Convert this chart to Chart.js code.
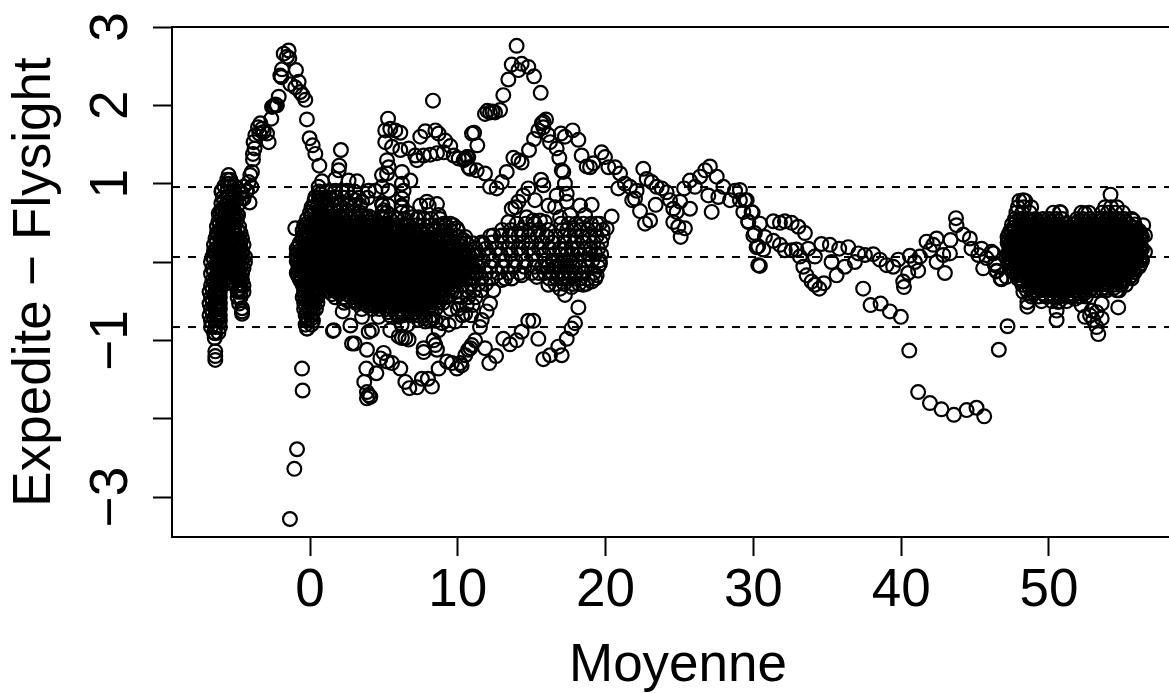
<!DOCTYPE html>
<html>
<head>
<meta charset="utf-8">
<script src="https://cdn.jsdelivr.net/npm/chart.js@4"></script>
<style>
  html, body { margin: 0; padding: 0; background: #fff; overflow: hidden; }
  #wrap { width: 1169px; height: 693px; overflow: hidden; }
</style>
</head>
<body>
<div id="wrap"><canvas id="chart" width="1184" height="693"></canvas></div>
<script>
// Dense clouds, one row per line: [difference, mean, mean, ...]
const leftRows = [
  [1.05,-5.6,-5.4],[.97,-5.8,-5.4,-5.1],[.9,-6,-5.6,-5.2,-4.7,-4.3],[.82,-5.9,-5.5,-5.1,-4.6],
  [.75,-6,-5.6,-5.2,-4.8],[.67,-6,-5.6,-5.2],[.6,-6.1,-5.7,-5.3,-4.9],[.52,-6.2,-5.8,-5.4,-5],
  [.45,-6.3,-5.9,-5.5,-5.1,-4.8],[.37,-6.3,-5.9,-5.5,-5.1,-4.7],[.3,-6.4,-6,-5.6,-5.2,-4.8,-4.6],
  [.22,-6.5,-6,-5.6,-5.2,-4.8,-4.5],[.14,-6.5,-6,-5.5,-5,-4.6],[.07,-6.6,-6.1,-5.6,-5.2,-4.7,-4.4],
  [0,-6.7,-6.2,-5.7,-5.3,-4.8,-4.4],[-.08,-6.6,-6.2,-5.7,-5.3,-4.9,-4.5],[-.15,-6.7,-6.2,-5.8,-5.4,-5,-4.6],
  [-.23,-6.6,-6.2,-5.8,-5.3,-4.9,-4.6],[-.3,-6.7,-6.3,-6,-5,-4.7,-4.5],[-.38,-6.8,-6.4,-6.1,-4.9,-4.7,-4.5],
  [-.45,-6.7,-6.3,-6.1,-4.9,-4.7],[-.53,-6.8,-6.4,-6.1,-4.8],[-.6,-6.7,-6.3,-6.1],[-.68,-6.8,-6.4,-6.1],
  [-.75,-6.7,-6.3,-6.1],[-.83,-6.7,-6.4,-6.1],[-.9,-6.5,-6.2]
];
const leftFillRows = [
  [.79,-5.8,-5.4,-5],[.71,-5.8,-5.4],[.64,-5.9,-5.5,-5.1],[.56,-6,-5.6,-5.2],[.49,-6.1,-5.7,-5.3],
  [.41,-6.1,-5.7,-5.3,-4.9],[.34,-6.2,-5.8,-5.4,-5],[.26,-6.3,-5.8,-5.4,-5,-4.7],[.18,-6.3,-5.8,-5.4,-5,-4.7],
  [.1,-6.4,-5.9,-5.4,-5,-4.6],[.04,-6.5,-5.9,-5.5,-5,-4.6],[-.04,-6.4,-6,-5.5,-5.1,-4.7],[-.12,-6.5,-6,-5.6,-5.2,-4.8],
  [-.19,-6.4,-6,-5.6,-5.1,-4.8],[-.27,-6.5,-6.1,-5.6,-4.8],[-.34,-6.6,-6.2,-4.8],[-.42,-6.5,-6.2],[-.5,-6.6,-6.2],
  [-.57,-6.5,-6.2],[-.64,-6.6,-6.2],[-.72,-6.5,-6.2]
];
const centreRows = [
  [.78,.3,.7],[.7,.1,.5,1],[.63,0,.3,.7,1.2],[.55,-.2,.3,.7,1.2,1.5],
  [.47,-.4,0,.5,1,1.4,1.9,2.3,2.8,3.3,3.7],
  [.4,-.5,-.2,.3,.7,1.2,1.7,2.1,2.6,3.1,3.5,4,4.5],
  [.32,-.5,0,.5,1,1.4,1.9,2.3,2.8,3.3,3.8,4.2,4.7,5.2,5.6,6.1,7],
  [.24,-.7,-.2,.3,.7,1.2,1.7,2.1,2.6,3.1,3.5,4,4.5,4.9,5.4,5.9,6.3,6.8,7.3,7.7,8.2,8.7],
  [.17,-.9,-.4,0,.5,1,1.4,1.9,2.3,2.8,3.3,3.8,4.2,4.7,5.2,5.6,6.1,6.6,7,7.5,8,8.4,8.9,9.4,9.8],
  [.09,-.9,-.2,.3,.7,1.2,1.7,2.1,2.6,3.1,3.5,4,4.5,4.9,5.4,5.9,6.3,6.8,7.3,7.7,8.2,8.7,9.1,9.6,10.1,10.5,11],
  [.01,-.9,-.4,0,.5,1,1.4,1.9,2.3,2.8,3.3,3.8,4.2,4.7,5.2,5.6,6.1,6.6,7,7.5,8,8.4,8.9,9.4,9.8,10.3,10.8,11.2],
  [-.06,-.7,-.2,.3,.7,1.2,1.7,2.1,2.6,3.1,3.5,4,4.5,4.9,5.4,5.9,6.3,6.8,7.3,7.7,8.2,8.7,9.1,9.6,10.1,10.5,11],
  [-.14,-.9,-.4,0,.5,1,1.4,1.9,2.3,2.8,3.3,3.8,4.2,4.7,5.2,5.6,6.1,6.6,7,7.5,8,8.4,8.9,9.4,9.8,10.3,10.8,11.2],
  [-.22,-.7,-.2,.3,.7,1.2,1.7,2.1,2.6,3.1,3.5,4,4.5,4.9,5.4,5.9,6.3,6.8,7.3,7.7,8.2,8.7,9.1,9.6,10.1,10.5,10.8],
  [-.29,-.5,0,.5,1,1.4,1.9,2.3,2.8,3.3,3.8,4.2,4.7,5.2,5.6,6.1,6.6,7,7.5,8,8.4,8.9,9.4,9.8,10.3],
  [-.37,-.4,.1,.5,1.2,1.7,2.1,2.6,3.1,3.5,4,4.5,4.9,5.4,5.9,6.3,6.8,7.3,7.7,8.2,8.7,9.1,9.6,9.9],
  [-.45,-.5,0,.5,1.7,2.3,2.8,3.3,3.8,4.2,4.7,5.2,5.6,6.1,6.6,7,7.5,8,8.4,8.9,9.2],
  [-.52,-.4,.1,.5,2.3,3.1,3.5,4,4.5,4.9,5.4,5.9,6.3,6.8,7.3,7.7,8.2,8.7,9],
  [-.6,-.4,0,.4,3.5,4.2,4.7,5.2,5.6,6.1,6.6,7,7.5,8,8.5,9.5,10],
  [-.68,-.3,.1,5.4,5.9,6.3,6.8,7.3,7.7,8.3],
  [-.75,-.2,.2,8.1,8.5],[-.8,-.3,.1,6.2,6.6],[-.85,-.2]
];
const centreFillRows = [
  [.59,.1,.5,1],[.51,-.1,.2,.6,1.1,1.5,2,2.5],
  [.44,-.3,.2,.6,1.1,1.5,2,2.5,3,3.4],
  [.36,-.4,.2,.6,1.1,1.5,2,2.5,3,3.4,3.9,4.4],
  [.28,-.5,-.3,.2,.6,1.1,1.5,2,2.5,3,3.4,3.9,4.4,4.8,5.3,5.8,6.2],
  [.2,-.8,-.3,.2,.6,1.1,1.5,2,2.5,3,3.4,3.9,4.4,4.8,5.3,5.8,6.2,6.7,7.2,7.6,8.1,8.6],
  [.13,-.8,-.3,.2,.6,1.1,1.5,2,2.5,3,3.4,3.9,4.4,4.8,5.3,5.8,6.2,6.7,7.2,7.6,8.1,8.6,9,9.5],
  [.05,-.8,-.3,.2,.6,1.1,1.5,2,2.5,3,3.4,3.9,4.4,4.8,5.3,5.8,6.2,6.7,7.2,7.6,8.1,8.6,9,9.5,10,10.4,10.9],
  [-.02,-.8,-.3,.2,.6,1.1,1.5,2,2.5,3,3.4,3.9,4.4,4.8,5.3,5.8,6.2,6.7,7.2,7.6,8.1,8.6,9,9.5,10,10.4,10.9],
  [-.1,-.8,-.3,.2,.6,1.1,1.5,2,2.5,3,3.4,3.9,4.4,4.8,5.3,5.8,6.2,6.7,7.2,7.6,8.1,8.6,9,9.5,10,10.4,10.9],
  [-.18,-.8,-.3,.2,.6,1.1,1.5,2,2.5,3,3.4,3.9,4.4,4.8,5.3,5.8,6.2,6.7,7.2,7.6,8.1,8.6,9,9.5,10,10.4],
  [-.25,-.6,-.3,.2,.6,1.1,1.5,2,2.5,3,3.4,3.9,4.4,4.8,5.3,5.8,6.2,6.7,7.2,7.6,8.1,8.6,9,9.5,10],
  [-.33,-.4,.2,.6,1.1,1.5,2,2.5,3,3.4,3.9,4.4,4.8,5.3,5.8,6.2,6.7,7.2,7.6,8.1,8.6,9,9.5],
  [-.41,-.4,.2,1.5,2,2.5,3,3.4,3.9,4.4,4.8,5.3,5.8,6.2,6.7,7.2,7.6,8.1,8.6,9],
  [-.49,-.3,.2,2.5,3,3.4,3.9,4.4,4.8,5.3,5.8,6.2,6.7,7.2,7.6,8.1,8.6],
  [-.56,-.3,.2,3.9,4.4,4.8,5.3,5.8,6.2,6.7,7.2,7.6,8.1],
  [-.64,-.2,.2,5.3,5.8,6.2,6.7,7.2,7.6],[-.72,-.2,.1,7.8,8.3]
];
const centreCoreRows = [
  [.26,.4,.8,1.3,1.8,2.2,2.7,3.2,3.6,4.1,4.6,5,5.5],
  [.19,-.1,.4,.8,1.3,1.8,2.2,2.7,3.2,3.6,4.1,4.6,5,5.5,6,6.4,6.9,7.4],
  [.11,-.6,-.1,.4,.8,1.3,1.8,2.2,2.7,3.2,3.6,4.1,4.6,5,5.5,6,6.4,6.9,7.4,7.8,8.3,8.8],
  [.03,-.6,-.1,.4,.8,1.3,1.8,2.2,2.7,3.2,3.6,4.1,4.6,5,5.5,6,6.4,6.9,7.4,7.8,8.3,8.8,9.2,9.7],
  [-.04,-.6,-.1,.4,.8,1.3,1.8,2.2,2.7,3.2,3.6,4.1,4.6,5,5.5,6,6.4,6.9,7.4,7.8,8.3,8.8,9.2,9.7],
  [-.12,-.6,-.1,.4,.8,1.3,1.8,2.2,2.7,3.2,3.6,4.1,4.6,5,5.5,6,6.4,6.9,7.4,7.8,8.3,8.8,9.2,9.7],
  [-.2,-.6,-.1,.4,.8,1.3,1.8,2.2,2.7,3.2,3.6,4.1,4.6,5,5.5,6,6.4,6.9,7.4,7.8,8.3,8.8,9.2],
  [-.27,-.1,.4,.8,1.3,1.8,2.2,2.7,3.2,3.6,4.1,4.6,5,5.5,6,6.4,6.9,7.4,7.8,8.3,8.8],
  [-.35,-.1,.3,1.8,2.2,2.7,3.2,3.6,4.1,4.6,5,5.5,6,6.4,6.9,7.4,7.8,8.3],
  [-.43,-.1,.3,3.2,3.6,4.1,4.6,5,5.5,6,6.4,6.9,7.4,7.8],[-.5,-.1,.3,4.6,5,5.5,6,6.4,6.9,7.4]
];
const topFillRows = [
  [.58,1.3,1.7,2.1,2.6,3,3.5,4],[.51,3,3.4,3.9,4.3],[.45,3.7,4.1,4.6,5,5.5,6,6.5],
  [.38,4.2,4.8,5.2,5.7,6.2,6.6,7.1,7.6,8],[.3,5.3,5.8,6.3,6.7,7.2,7.7,8.1,8.6,9],
  [.27,6.6,7.1,7.6,8,8.5,9,9.4],[.2,8.9,9.3,9.8,10.2],[.13,9.9,10.3,10.7]
];
const upperRows = [
  [.9,.6,1.1,1.7,2.2,2.5,3],[.82,.6,.9,1.3,1.8,2.3,2.8,3.3,3.9],
  [.72,1.2,1.6,2,2.5,3,3.4,4.9,5.3,6.2],[.63,1.5,1.9,2.4,2.9,3.4,4.9,5.2,6.2,6.6],
  [.55,1.8,2.3,2.8,3.3,3.8,4.9,5.4,5.9,6.4,7.2,7.7,8.2,8.8],
  [.47,4.2,4.7,5.2,5.7,6.2,6.7,7.2,7.7,8.2,8.7,9.2,9.7],
  [.4,5,5.5,6,6.5,7,7.5,8,8.5,9,9.5,10],[.32,7.5,8,8.6,9.1,9.6,10.1,10.5],[.24,9.2,9.7,10.2,10.6,11]
];
const midRows = [
  [.49,14,14.6,15.2,17,17.5,18,18.5,19,19.6],
  [.41,13,13.6,14.3,14.9,15.5,16.1,17.1,17.4,17.9,18.3,18.8,19.3,19.8],
  [.33,12.2,12.9,13.5,14.1,14.8,15.4,16,16.6,17.2,17.6,18,18.4,18.9,19.4,19.8],
  [.25,11.6,12.3,13,13.7,14.4,15,15.7,16.4,17.2,17.9,18.5,19.2,19.7],
  [.17,11.2,11.9,12.6,13.4,14.1,14.8,15.5,16.2,16.9,17.3,17.7,18.1,18.6,19,19.5],
  [.1,11.4,12.1,12.9,13.6,14.3,15.1,15.8,16.5,17,17.4,17.8,18.3,18.9,19.3,19.7],
  [.02,11.7,12.4,13.2,13.9,14.6,15.3,15.9,16.4,16.8,17.2,17.6,18,18.6,19.1,19.6],
  [-.06,11.4,12.2,13,13.8,14.5,15.2,15.7,16.1,16.6,17,17.4,17.8,18.2,18.8,19.5],
  [-.14,11.3,11.9,12.7,13.4,14.2,15,15.5,15.9,16.4,16.8,17.2,17.6,18,18.5,19.2],
  [-.21,11,11.6,12.3,13.2,16.2,16.7,17.1,17.5,17.9,18.3,18.8,19.3],
  [-.28,10.9,11.4,11.9,16.6,17.2,17.8,18.2,18.7],[-.36,10.6,11.1,11.6],[-.45,10.2,10.7,11.2],[-.55,10.1,10.6,11],[-.68,10.3,10.9]
];
const rightRows = [
  [.78,48,48.4],[.7,47.9,48.3,48.8,53.8,54.2,54.6],
  [.63,47.8,48.2,48.7,50.3,50.8,52.2,52.7,53.6,54,54.5,55],
  [.55,47.7,48.1,48.6,49.1,49.6,50,50.5,50.9,51.9,52.3,52.8,53.3,53.7,54.2,54.7,55.1,55.6],
  [.48,47.5,48,48.4,48.8,49.3,49.8,50.2,50.7,51.2,51.6,52.1,52.6,53,53.5,54,54.4,54.9,55.4,55.8],
  [.4,47.4,47.7,48.1,48.6,49.1,49.5,50,50.5,50.9,51.4,51.9,52.3,52.8,53.3,53.7,54.2,54.7,55.1,55.6,56.1],
  [.32,47.2,47.9,48.4,48.8,49.3,49.8,50.2,50.7,51.2,51.6,52.1,52.6,53,53.5,54,54.4,54.9,55.4,55.8,56.3],
  [.25,47.2,47.7,48.1,48.6,49.1,49.5,50,50.5,50.9,51.4,51.9,52.3,52.8,53.3,53.7,54.2,54.7,55.1,55.6,56.1],
  [.17,47.4,47.9,48.4,48.8,49.3,49.8,50.2,50.7,51.2,51.6,52.1,52.6,53,53.5,54,54.4,54.9,55.4,55.8,56.3],
  [.1,47.2,47.7,48.1,48.6,49.1,49.5,50,50.5,50.9,51.4,51.9,52.3,52.8,53.3,53.7,54.2,54.7,55.1,55.6,56.1],
  [.02,47.4,47.9,48.4,48.8,49.3,49.8,50.2,50.7,51.2,51.6,52.1,52.6,53,53.5,54,54.4,54.9,55.4,55.8,56.3],
  [-.06,47.4,47.7,48.1,48.6,49.1,49.5,50,50.5,50.9,51.4,51.9,52.3,52.8,53.3,53.7,54.2,54.7,55.1,55.6,56.1],
  [-.13,47.6,47.9,48.4,48.8,49.3,49.8,50.2,50.7,51.2,51.6,52.1,52.6,53,53.5,54,54.4,54.9,55.4,55.8],
  [-.21,47.9,48.1,48.6,49.1,49.5,50,50.5,50.9,51.4,51.9,52.3,52.8,53.3,53.7,54.2,54.7,55.1,55.6],
  [-.29,48.2,48.8,49.3,49.8,50.2,50.7,51.2,51.6,52.1,52.6,53,53.5,54,54.4,54.9,55.2],
  [-.36,48.5,49.1,49.5,50,50.5,50.9,51.4,51.9,52.3,52.8,53.1,53.9,54.6],
  [-.44,48.8,49.3,49.8,50.2,50.7,51.2,51.6,52.1,52.5],[-.5,49.5,50.2,50.7,51.2]
];
const rightFillRows = [
  [.52,47.8,48.2,48.7,49.2,49.6,50.1,50.6,52,52.4,52.9,53.4,53.8,54.3,54.8,55.2],
  [.44,47.6,48.2,48.7,49.2,49.6,50.1,50.6,51,51.5,52,52.4,52.9,53.4,53.8,54.3,54.8,55.2,55.7],
  [.36,47.3,47.8,48.2,48.7,49.2,49.6,50.1,50.6,51,51.5,52,52.4,52.9,53.4,53.8,54.3,54.8,55.2,55.7,56.2],
  [.28,47.3,47.8,48.2,48.7,49.2,49.6,50.1,50.6,51,51.5,52,52.4,52.9,53.4,53.8,54.3,54.8,55.2,55.7,56.2],
  [.21,47.3,47.8,48.2,48.7,49.2,49.6,50.1,50.6,51,51.5,52,52.4,52.9,53.4,53.8,54.3,54.8,55.2,55.7,56.2],
  [.13,47.3,47.8,48.2,48.7,49.2,49.6,50.1,50.6,51,51.5,52,52.4,52.9,53.4,53.8,54.3,54.8,55.2,55.7,56.2],
  [.06,47.3,47.8,48.2,48.7,49.2,49.6,50.1,50.6,51,51.5,52,52.4,52.9,53.4,53.8,54.3,54.8,55.2,55.7,56.2],
  [-.02,47.4,47.8,48.2,48.7,49.2,49.6,50.1,50.6,51,51.5,52,52.4,52.9,53.4,53.8,54.3,54.8,55.2,55.7,56.2],
  [-.1,47.6,48.2,48.7,49.2,49.6,50.1,50.6,51,51.5,52,52.4,52.9,53.4,53.8,54.3,54.8,55.2,55.7],
  [-.17,47.8,48.2,48.7,49.2,49.6,50.1,50.6,51,51.5,52,52.4,52.9,53.4,53.8,54.3,54.8,55.2,55.6],
  [-.25,48.2,48.7,49.2,49.6,50.1,50.6,51,51.5,52,52.4,52.9,53.4,53.8,54.3,54.8,55],
  [-.33,48.7,49.2,49.6,50.1,50.6,51,51.5,52,52.4,52.9,53.9,54.4],[-.4,49,49.6,50.1,50.6,51,51.5,52,52.4]
];
const rightCoreRows = [
  [.46,48,48.5,48.9,49.4,49.9,50.3,52.2,52.7,53.1,53.6,54.1,54.5,55],
  [.38,47.5,48,48.5,48.9,49.4,49.9,50.3,50.8,51.3,51.7,52.2,52.7,53.1,53.6,54.1,54.5,55,55.5,55.9],
  [.3,47.5,48,48.5,48.9,49.4,49.9,50.3,50.8,51.3,51.7,52.2,52.7,53.1,53.6,54.1,54.5,55,55.5,55.9],
  [.23,47.5,48,48.5,48.9,49.4,49.9,50.3,50.8,51.3,51.7,52.2,52.7,53.1,53.6,54.1,54.5,55,55.5,55.9],
  [.15,47.5,48,48.5,48.9,49.4,49.9,50.3,50.8,51.3,51.7,52.2,52.7,53.1,53.6,54.1,54.5,55,55.5,55.9],
  [.08,47.5,48,48.5,48.9,49.4,49.9,50.3,50.8,51.3,51.7,52.2,52.7,53.1,53.6,54.1,54.5,55,55.5,55.9],
  [0,47.5,48,48.5,48.9,49.4,49.9,50.3,50.8,51.3,51.7,52.2,52.7,53.1,53.6,54.1,54.5,55,55.5,55.9],
  [-.08,48,48.5,48.9,49.4,49.9,50.3,50.8,51.3,51.7,52.2,52.7,53.1,53.6,54.1,54.5,55,55.5],
  [-.15,48.5,48.9,49.4,49.9,50.3,50.8,51.3,51.7,52.2,52.7,53.1,53.6,54.1,54.5,55],
  [-.23,48.9,49.4,49.9,50.3,50.8,51.3,51.7,52.2,52.7,53.1,53.6,54.1,54.5],
  [-.31,49.4,49.9,50.3,50.8,51.3,51.7,52.2,52.6]
];
// Rings that can be told apart, as [mean, difference]
const peakTrack = [
  [-1.78,2.66],[-1.45,2.7],[-1.56,2.62],[-1.4,2.6],[-1.9,2.46],[-2.01,2.38],[-1.94,2.36],[-.95,2.45],[-1.33,2.27],
  [-.77,2.3],[-1,2.23],[-.66,2.17],[-.5,2.13],[-.32,2.07],[-2.12,2.11],[-2.35,2.01],[-2.57,1.98],[-2.24,2],[-2.46,1.99],
  [-.21,1.82],[-2.62,1.83],[-.03,1.58],[.18,1.49],[.36,1.38],[.63,1.23],[-3.36,1.77],[-3.52,1.72],[-3.25,1.7],
  [-3.14,1.66],[-2.91,1.64],[-3.43,1.64],[-2.8,1.53],[-3.7,1.62],[-3.82,1.53],[-3.75,1.45],[-3.86,1.38],[-3.86,1.31],
  [-3.93,1.15],[-4.04,1.11],[-4.15,1.02],[-3.97,.96],[-4.49,.96],[-4.27,.91],[-4.09,.76],[-4.49,.81],[-5.51,1.11],
  [-5.51,1],[-5.96,.91],[-4.87,.6],[-4.94,.55],[-6.18,.62],[-4.72,.87],[-4.6,-.59],[-4.6,-.63],[-4.6,-.66],
  [-6.41,-1.25],[-6.41,-1.2],[-6.41,-1.14],[-6.45,-.97],[-6.41,-.91]
];
const lowTrack = [
  [-.2,-.85],[-.54,-1.36],[-.5,-1.64],[-.88,-2.39],[-1.06,-2.64],[-1.36,-3.28],[1.6,-.87],[1.55,-.88],[2.21,-.63],
  [2.73,-.81],[2.84,-1.04],[3.02,-1.04],[3.85,-1.12],[4.98,-1.16],[4.76,-1.23],[5.21,-1.27],[5.55,-1.29],[6.11,-1.36],
  [3.81,-1.36],[4.49,-1.42],[3.67,-1.53],[6.45,-1.53],[6.72,-1.61],[7.24,-1.6],[7.57,-1.49],[7.98,-1.49],[8.25,-1.59],
  [8.7,-1.36],[9.27,-1.27],[9.6,-1.29],[9.94,-1.36],[10.17,-1.29],[10.51,-1.19],[10.85,-1.1],[3.85,-1.66],[3.97,-1.7],
  [4.08,-1.72],[3.85,-1.74],[6.45,-.97],[6.22,-.97],[6.67,-.99],[7.69,-1.1],[7.69,-1.15],[8.36,-1],[8.48,-1.06],
  [8.59,-1.12],[4.19,-.87],[3.97,-.89],[5.43,-.87],[6,-.95],[9.83,-.76],[9.38,-.8],[10.5,-.66],[3.52,-.7],[4.64,-.7],
  [7.35,-.74],[7.8,-.76],[8.7,-.87],[8.93,-.78],[6,-.7],[6.9,-.66],
  [18.16,-.58],[17.93,-.78],[17.7,-.85],[17.37,-.98],[16.8,-1.08],[17.03,-1.19],[16.24,-1.19],[15.79,-1.24],[15.45,-.98],
  [15.11,-.75],[14.77,-.75],[14.32,-.89],[13.98,-1],[13.53,-1.05],[13.08,-.98],[12.59,-1.2],[12.13,-1.29],[11.84,-1.1],
  [11.17,-1],[10.94,-1.06],[10.71,-1.12],[10.26,-1.32],[11.5,-.83],[11.62,-.74],[11.95,-.63],[12.18,-.53],[17.25,-.42],
  [16.13,-.29],[18.49,-.29],[19.06,-.25],[15.34,-.19],[19.4,-.17],[19.62,-.02],[12.4,-.36],[12.97,-.23],[13.65,-.21],
  [14.32,-.17],[16.92,-.34],[17.7,-.32]
];
const upperTrack = [
  [5.28,1.83],[5.09,1.68],[5.43,1.7],[5.77,1.68],[6.11,1.65],[5.09,1.53],[5.55,1.47],[6.11,1.43],[6.67,1.45],[7.12,1.36],
  [7.24,1.3],[7.46,1.6],[7.8,1.67],[8.48,1.68],[8.7,1.64],[9.15,1.55],[9.49,1.48],[9.72,1.36],[10.06,1.32],[10.4,1.3],
  [10.62,1.34],[10.73,1.21],[10.96,1.64],[7.69,1.36],[8.14,1.37],[8.59,1.39],[9.04,1.4],[8.32,2.06],[2.09,1.43],[1.98,1.23],
  [1.94,1.17],[3.18,1.03],[2.61,1.04],[1.71,1.06],[.81,1.03],[.58,.96],[.36,.83],[.7,.87],[.25,.7],[5.21,1.3],[5.32,1.21],
  [5.21,1.13],[4.87,1.11],[6.22,1.15],[6.79,1.04],[6.22,1],[6.33,.91],[6.22,.81],[6.22,.7],[3.97,.91],[4.42,.91],[4.87,.96],
  [5.32,.91],[4.87,.74],[4.98,.66],[3.85,.57],[3.52,.77],[3.07,.79],[2.5,.91],[1.71,.91],[1.82,.74],[1.71,.83],[1.03,.79],
  [7.91,.77],[8.03,.72],[8.59,.74],[7.46,.72],[8.7,.6],[7.35,.57],[9.04,.49],[9.49,.49],[9.94,.43],[10.39,.28],[6.9,.57],[-1,.43]
];
const humpTrack = [
  [13.98,2.76],[13.65,2.52],[14.32,2.53],[14.1,2.45],[14.77,2.49],[15.16,2.37],[13.42,2.33],[15.61,2.16],[13.08,2.13],
  [12.86,1.94],[12.52,1.91],[12.18,1.91],[11.84,1.89],[12,1.93],[12.35,1.92],[11.1,1.65],[11.32,1.49],[10.49,1.32],[10.71,1.34],
  [11.28,1.17],[11.84,1.13],[10.83,1.19],[12.18,.96],[12.63,.94],[12.97,1.02],[13.31,1.15],[13.76,1.33],[14.32,1.27],[14.1,1.3],
  [14.82,1.43],[15.16,1.57],[15.45,1.68],[15.68,1.77],[15.97,1.82],[15.79,1.79],[15.79,1.72],[16.13,1.62],[16.24,1.53],
  [16.69,1.45],[16.87,1.33],[16.98,1.64],[17.25,1.6],[17.77,1.68],[18.16,1.56],[18.38,1.36],[17.14,1.15],[17.03,1.17],
  [17.25,1],[17.37,.87],[17.37,.77],[18.72,1.22],[18.95,1.21],[19.17,1.26],[19.73,1.4],[19.96,1.34],[20.19,1.21],[20.64,1.21],
  [15.63,1.05],[15.79,.98],[14.77,.94],[14.43,.85],[15.22,.79],[13.65,.68],[13.9,.7],[14.1,.77],[16.13,.72],[16.58,.7],
  [16.69,.85],[18.27,.72],[19.06,.73],[20.41,.58],[20.07,.43],[16.92,.57],[17.59,.6],[18.61,.6],[19.4,.49],[13.42,.51],
  [15.56,.53],[15.9,.51],[15.11,.53],[14.66,.57],[16.06,.32],[12.4,.34],[11.73,.23],[12.97,.34],[14.32,.36]
];
const ridgeTrack = [
  [20.86,.94],[20.98,1.13],[21.31,1],[21.65,.96],[22.1,.91],[21.99,.81],[21.8,.79],[22.33,.65],[22.55,1.19],[22.78,1.06],
  [23.12,1.02],[23.46,.96],[23.8,.94],[24.13,.89],[24.36,.79],[23.39,.73],[23.01,.53],[22.67,.49],[24.58,.68],[24.81,.64],
  [25.04,.77],[25.71,.68],[24.58,.51],[24.92,.45],[25.37,.43],[25.08,.32],[25.31,.94],[25.71,1.04],[26.05,.96],[26.39,1.09],
  [26.73,1.17],[27.06,1.22],[26.95,.85],[27.18,.64],[27.52,1.09],[27.63,.83],[27.97,.96],[28.42,.79],[28.76,.91],[29.09,.79],
  [29.55,.79],[29.32,.64],[29.88,.64],[29.66,.51],[30,.34],[30.22,.19],[30.33,-.04],
  [29.09,.92],[29.43,.79],[29.95,.63],[29.65,.52],[30.44,.49],[30.1,.37],[31.35,.52],[31.8,.5],[32.13,.52],[32.59,.5],
  [33.04,.45],[33.49,.37],[30.78,.32],[30.33,.2],[30.67,.16],[31.35,.27],[31.8,.22],[32.13,.15],[32.59,.15],[32.92,.16],
  [30.44,-.05],[33.71,.17],[34.16,.07],[33.15,.07],[33.38,-.06],[33.6,-.17],[33.94,-.25],[34.16,-.29],[34.46,-.34],[34.77,-.27],
  [34.6,.23],[35.18,.22],[35.81,.17],[36.42,.19],[35.29,0],[35.63,-.17],[36.19,-.06],[36.87,0],[37.1,.11],[37.55,.09],
  [38.11,.1],[38.56,.03],[39.01,-.04],[39.46,-.06],[39.8,.03],[37.43,-.34],[37.93,-.55],[38.61,-.53],[39.24,-.63],[39.98,-.7],
  [40.55,-1.13],[40.14,-.25],[40.19,-.32],[40.59,.08],[40.48,-.14],[41.15,-.11],[40.93,0],[41.27,.07],[41.72,.26],[42.17,.22],
  [42.4,.3],[41.95,.15],[42.4,0],[42.85,.09],[43.3,.11],[42.96,-.14],[43.34,.28],[43.71,.56],[43.75,.47],[44.2,.35],[44.65,.3],
  [44.76,.17],[45.44,.17],[46.12,.13],[45.55,-.08],[45.22,.09],[45.78,.05],[46.34,-.04],[46.46,-.12],[46.79,-.22],[47.13,-.19],
  [47.2,-.82],[46.61,-1.12],[41.15,-1.66],[41.95,-1.8],[42.73,-1.88],[43.57,-1.95],[44.43,-1.89],[45.1,-1.86],[45.62,-1.97]
];
const rightTrack = [
  [46.24,.11],[46.35,-.02],[46.46,-.11],[46.73,-.21],[48.54,-.57],[48.54,-.51],[48.27,-.38],[50.52,-.74],[50.52,-.62],[50.63,-.51],
  [51.76,-.47],[52.21,-.55],[52.44,-.7],[52.89,-.62],[53.34,-.92],[53.23,-.83],[53.57,-.72],[53.57,-.53],[53.57,-.34],[54.69,-.58],
  [54.76,-.36],[52.78,-.68],[53.23,-.64],[53,-.74],[55.48,-.19],[56.27,.04],[56.5,.13],[56.5,.34],[56.38,.47],[55.71,.53],
  [54.17,.86],[48.27,.79],[50.75,.64],[52.44,.62]
];

const limitValues = [0.957, 0.064, -0.83];
const xTicks = [0, 10, 20, 30, 40, 50];
const yTicks = [3, 2, 1, 0, -1, -2, -3];
const yTickLabels = ['3', '2', '1', '', '\u22121', '', '\u22123'];
const xRange = [-9.34, 59.14];
const yRange = [-3.51, 3];

const rows = [leftRows, leftFillRows, centreRows, centreFillRows, centreCoreRows, topFillRows, upperRows, midRows, rightRows, rightFillRows, rightCoreRows];
const tracks = [peakTrack, lowTrack, upperTrack, humpTrack, ridgeTrack, rightTrack];
const points = [];
rows.forEach(group => group.forEach(r => r.slice(1).forEach(x => points.push({ x: x, y: r[0] }))));
tracks.forEach(group => group.forEach(p => points.push({ x: p[0], y: p[1] })));

const limitSets = limitValues.map(v => ({
    type: 'line',
    data: [{ x: xRange[0], y: v }, { x: xRange[1], y: v }],
    borderColor: '#000',
    borderWidth: 2,
    borderDash: [8, 8],
    pointRadius: 0,
    fill: false
}));

// top edge of the box, the axes only give left and bottom
const topEdge = {
    id: 'topEdge',
    afterDraw(chart) {
        const ctx = chart.ctx, a = chart.chartArea;
        ctx.save();
        ctx.strokeStyle = '#000';
        ctx.lineWidth = 2;
        ctx.beginPath();
        ctx.moveTo(a.left, a.top);
        ctx.lineTo(a.right, a.top);
        ctx.stroke();
        ctx.restore();
    }
};

const fontFamily = '"Liberation Sans", Arial, sans-serif';

new Chart(document.getElementById('chart').getContext('2d'), {
    type: 'scatter',
    data: {
        datasets: [{
            data: points,
            showLine: false,
            borderColor: '#000',
            backgroundColor: 'transparent',
            borderWidth: 2.2,
            pointRadius: 6.9,
            pointBorderWidth: 2.2
        }].concat(limitSets)
    },
    plugins: [topEdge],
    options: {
        responsive: false,
        animation: false,
        devicePixelRatio: 1,
        layout: { autoPadding: false, padding: { top: 27, right: 0, left: 0, bottom: 0 } },
        plugins: { legend: { display: false }, tooltip: { enabled: false } },
        scales: {
            x: {
                type: 'linear',
                min: xRange[0],
                max: xRange[1],
                afterBuildTicks: s => { s.ticks = xTicks.map(v => ({ value: v })); },
                afterFit: s => { s.height = 156; s.paddingLeft = 0; s.paddingRight = 0; },
                border: { display: true, color: '#000', width: 2 },
                grid: { drawOnChartArea: false, drawTicks: true, tickLength: 19, tickColor: '#000', tickWidth: 2 },
                ticks: { color: '#000', padding: 4, maxRotation: 0, autoSkip: false, font: { family: fontFamily, size: 53 } },
                title: { display: true, text: 'Moyenne', color: '#000', padding: { top: 0, bottom: -5 }, font: { family: fontFamily, size: 53 } }
            },
            y: {
                type: 'linear',
                min: yRange[0],
                max: yRange[1],
                afterBuildTicks: s => { s.ticks = yTicks.map(v => ({ value: v })); },
                afterFit: s => { s.width = 172; s.paddingTop = 0; s.paddingBottom = 0; },
                border: { display: true, color: '#000', width: 2 },
                grid: { drawOnChartArea: false, drawTicks: true, tickLength: 19, tickColor: '#000', tickWidth: 2 },
                ticks: {
                    color: '#000',
                    padding: 10,
                    minRotation: 90,
                    maxRotation: 90,
                    crossAlign: 'center',
                    autoSkip: false,
                    font: { family: fontFamily, size: 53 },
                    callback: v => yTickLabels[yTicks.indexOf(v)]
                },
                title: { display: true, text: 'Expedite \u2212 Flysight', color: '#000', padding: { top: 4, bottom: 0 }, font: { family: fontFamily, size: 53 } }
            }
        }
    }
});
</script>
</body>
</html>
